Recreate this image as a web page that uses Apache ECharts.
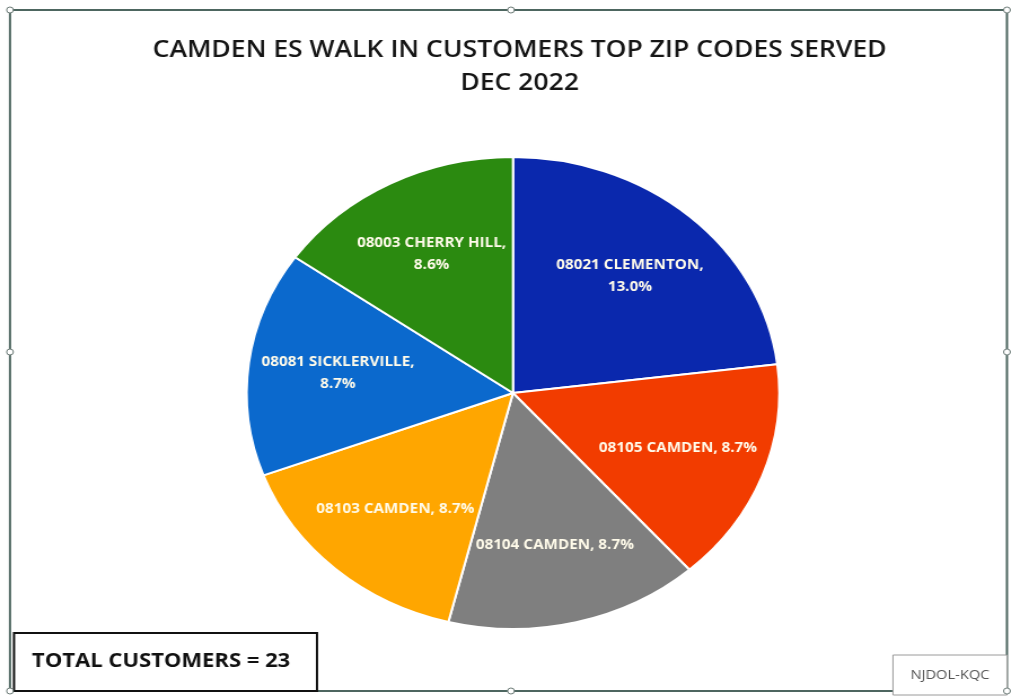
<!DOCTYPE html>
<html><head><meta charset="utf-8">
<script src="https://cdn.jsdelivr.net/npm/echarts@6/dist/echarts.min.js"></script>
<style>
html,body{margin:0;padding:0;background:#fff;overflow:hidden;}
#wrap{width:1011px;height:696px;overflow:hidden;position:relative;}
#c{width:896px;height:696px;transform:scaleX(1.1283);transform-origin:0 0;}
</style></head><body>
<div id="wrap"><div id="c"></div></div>
<script>
const titleText = 'CAMDEN ES WALK IN CUSTOMERS TOP ZIP CODES SERVED\nDEC 2022';
const categories = ['08021 CLEMENTON', '08105 CAMDEN', '08104 CAMDEN', '08103 CAMDEN', '08081 SICKLERVILLE', '08003 CHERRY HILL'];
const percents = [13.0, 8.7, 8.7, 8.7, 8.7, 8.6];
const colors = ['#0a28ad', '#f23c00', '#7f7f7f', '#ffa600', '#0b69cd', '#2b8a10'];
const totalText = 'TOTAL CUSTOMERS = 23';
const creditText = 'NJDOL-KQC';

const S = 1011 / 896;
const X = v => v / S;
const chart = echarts.init(document.getElementById('c'));
const data = categories.map((n, i) => ({name: n, value: percents[i], itemStyle: {color: colors[i]}}));
const fmt = p => {
  const v = p.value.toFixed(1) + '%';
  return p.name.indexOf('CAMDEN') >= 0 ? p.name + ', ' + v : p.name + ',\n' + v;
};
const cx = X(513), cy = 393, R = 236;
const handle = (x, y) => ({type: 'rect', shape: {x: X(x) - 3, y: y - 3, width: 6, height: 6, r: 3},
  style: {fill: '#fff', stroke: '#6b7a76', lineWidth: 1}, z: 20});
chart.setOption({
  animation: false,
  backgroundColor: '#fff',
  title: {
    text: titleText, left: X(514), top: 29, textAlign: 'center',
    textStyle: {fontFamily: 'Open Sans', fontSize: 23.5, fontWeight: 600, color: '#151515', lineHeight: 33}
  },
  series: [{
    type: 'pie', center: [cx, cy], radius: [0, R], startAngle: 90, clockwise: true,
    data: data, label: {show: false}, labelLine: {show: false},
    itemStyle: {borderColor: '#ffffff', borderWidth: 2}, silent: true
  }, {
    type: 'pie', center: [cx, cy], radius: [R * 0.38, R * 0.92], startAngle: 90, clockwise: true,
    data: data.map(d => ({name: d.name, value: d.value})), silent: true,
    itemStyle: {color: 'rgba(0,0,0,0)'},
    label: {show: true, position: 'inside', formatter: fmt, color: '#fffbea',
      fontFamily: 'Open Sans', fontWeight: 'bold', fontSize: 13.5, lineHeight: 22, align: 'center',
      letterSpacing: -0.5},
    labelLine: {show: false}
  }],
  graphic: [
    {type: 'rect', shape: {x: X(10), y: 10, width: X(997), height: 681},
      style: {fill: 'none', stroke: '#4d6660', lineWidth: 2}, z: 10},
    handle(10, 10), handle(511, 10), handle(1007, 10), handle(10, 352), handle(1007, 352),
    handle(10, 691), handle(511, 691), handle(1007, 691),
    {type: 'rect', shape: {x: X(14), y: 633, width: X(303), height: 58},
      style: {fill: '#fff', stroke: '#111', lineWidth: 2}, z: 11},
    {type: 'text', x: X(32), y: 661, style: {text: totalText, fill: '#111', fontFamily: 'Open Sans',
      fontWeight: 'bold', fontSize: 19.5, verticalAlign: 'middle'}, z: 12},
    {type: 'rect', shape: {x: X(893), y: 655, width: X(114), height: 40},
      style: {fill: '#fff', stroke: '#9a9a9a', lineWidth: 1}, z: 11},
    {type: 'text', x: X(950), y: 675, style: {text: creditText, fill: '#555', fontFamily: 'Open Sans',
      fontSize: 13, align: 'center', verticalAlign: 'middle'}, z: 12}
  ]
});
</script></body></html>
